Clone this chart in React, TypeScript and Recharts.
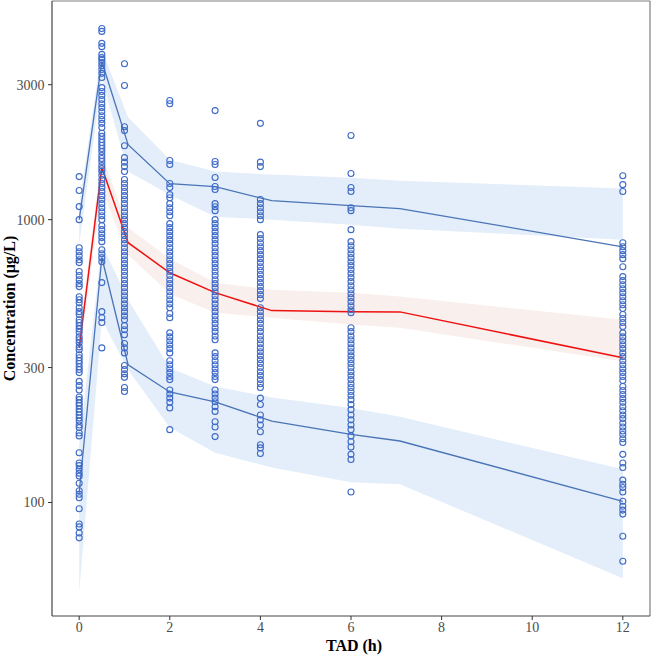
import React from 'react';
import { ComposedChart, XAxis, YAxis, Scatter, Line, Area, ReferenceLine } from 'recharts';

// Bin times for VPC percentile lines / bands (h)
const binTimes = [0, 0.5, 1.08, 2, 3, 4.25, 6, 7.08, 12];
// Observed percentiles (µg/L)
const obsP95 = [1000, 3622, 1842, 1341, 1308, 1167, 1121, 1094, 802];
const obsP50 = [352, 1528, 829, 649, 552, 477, 473, 472, 325];
const obsP05 = [108, 735, 307, 246, 227, 194, 174, 165, 101];
// Simulated CI bands
const ciP95Hi = [1130, 3994, 2300, 1630, 1479, 1443, 1408, 1374, 1288];
const ciP95Lo = [816, 3129, 1480, 1225, 1025, 1000, 960, 929, 850];
const ciP50Hi = [392, 1700, 937, 728, 598, 565, 552, 535, 443];
const ciP50Lo = [320, 1278, 752, 547, 469, 450, 426, 415, 315];
const ciP05Hi = [160, 816, 521, 299, 257, 235, 216, 201, 131];
const ciP05Lo = [48, 443, 295, 184, 150, 133, 118, 116, 54];

// Observed concentrations by nominal time
const obsTimes = [0, 0.5, 1, 2, 3, 4, 6, 12];
const obsT0 = [1420, 1268, 1112, 1000, 796, 770, 746, 722, 705, 656, 635, 613, 594, 580, 534, 521, 508, 488, 473, 462, 443, 433, 422, 411, 400, 385, 376, 367, 355, 347, 333, 325, 317, 310, 302, 295, 288, 268, 259, 250, 236, 231, 225, 220, 214, 209, 204, 199, 194, 188, 184, 176, 172, 150, 138, 135, 131, 127, 124, 117, 110, 107, 104, 95, 84, 82, 78, 75];
const obsT05 = [4740, 4630, 4200, 4090, 3840, 3740, 3682, 3590, 3500, 3394, 3290, 3180, 2930, 2840, 2750, 2659, 2570, 2490, 2410, 2330, 2259, 2190, 2117, 2020, 1970, 1920, 1875, 1830, 1785, 1740, 1685, 1645, 1605, 1555, 1515, 1480, 1435, 1386, 1342, 1299, 1257, 1216, 1178, 1139, 1102, 1067, 1032, 1000, 952, 922, 892, 864, 836, 783, 758, 734, 710, 599, 473, 450, 433, 352];
const obsT1 = [3560, 2980, 2130, 2065, 1826, 1657, 1597, 1540, 1480, 1386, 1342, 1299, 1257, 1216, 1178, 1139, 1102, 1067, 1032, 1000, 968, 937, 907, 878, 850, 823, 796, 770, 746, 722, 699, 677, 656, 635, 613, 594, 575, 556, 538, 521, 504, 488, 473, 457, 443, 422, 408, 392, 365, 352, 338, 305, 295, 285, 277, 255, 247];
const obsT2 = [2637, 2570, 1618, 1566, 1342, 1299, 1226, 1196, 1139, 1102, 1067, 1032, 968, 937, 907, 878, 850, 823, 796, 770, 746, 722, 699, 677, 656, 635, 613, 594, 575, 556, 538, 521, 504, 488, 466, 450, 398, 385, 373, 361, 350, 338, 317, 307, 297, 288, 279, 272, 250, 242, 234, 226, 216, 181];
const obsT3 = [2430, 1605, 1566, 1410, 1310, 1278, 1139, 1111, 1076, 1000, 968, 937, 907, 878, 850, 823, 796, 770, 746, 722, 699, 677, 656, 635, 613, 594, 575, 556, 538, 521, 504, 488, 473, 457, 443, 429, 415, 402, 388, 376, 338, 328, 317, 307, 297, 288, 279, 272, 250, 242, 234, 227, 218, 210, 193, 185, 171];
const obsT4 = [2190, 1597, 1540, 1178, 1139, 1102, 1067, 1032, 1000, 885, 857, 829, 802, 777, 752, 728, 705, 682, 661, 640, 619, 599, 580, 561, 543, 526, 488, 473, 457, 443, 429, 415, 402, 388, 376, 364, 352, 341, 330, 320, 310, 300, 290, 281, 272, 263, 255, 234, 222, 204, 196, 188, 178, 160, 156, 149];
const obsT6 = [1983, 1457, 1299, 1257, 1102, 1076, 922, 836, 809, 783, 758, 734, 710, 688, 666, 645, 624, 604, 584, 565, 547, 530, 513, 496, 480, 469, 415, 402, 388, 376, 364, 352, 341, 330, 320, 310, 300, 290, 281, 272, 263, 255, 247, 239, 231, 222, 213, 204, 196, 188, 181, 172, 164, 157, 148, 142, 109];
const obsT12 = [1430, 1330, 1257, 829, 802, 777, 752, 728, 682, 629, 609, 589, 570, 552, 534, 517, 500, 485, 462, 447, 433, 419, 398, 385, 373, 361, 350, 338, 328, 317, 307, 297, 288, 279, 270, 257, 249, 241, 233, 226, 218, 211, 204, 198, 191, 185, 179, 174, 168, 163, 148, 138, 133, 120, 116, 113, 109, 101, 97, 94, 91, 76, 62];
const obsByTime = [obsT0, obsT05, obsT1, obsT2, obsT3, obsT4, obsT6, obsT12];

const xTicks = [0, 2, 4, 6, 8, 10, 12];
const yTicks = [100, 300, 1000, 3000];
const X_DOMAIN: [number, number] = [-0.6, 12.6];
const Y_DOMAIN: [number, number] = [39.7, 5930];

const vpcRows = binTimes.map((t, i) => ({
  t,
  p95: obsP95[i],
  p50: obsP50[i],
  p05: obsP05[i],
  b95: [ciP95Lo[i], ciP95Hi[i]],
  b50: [ciP50Lo[i], ciP50Hi[i]],
  b05: [ciP05Lo[i], ciP05Hi[i]],
}));

const points = obsTimes.flatMap((t, i) => obsByTime[i].map((c) => ({ t, c })));

const FONT = '"Liberation Serif", "Times New Roman", serif';
const BLUE_BAND = '#E3EEFA';
const RED_BAND = '#F9EFEC';
const BLUE_LINE = '#4A74B6';
const RED_LINE = '#EE1111';
const POINT = '#3E6AC8';

const tickStyle = { fontFamily: FONT, fontSize: 14, fill: '#4D4D4D' };

const YTitle = (props: any) => {
  const vb = props.viewBox || { y: 0, height: 0 };
  const cy = vb.y + vb.height / 2;
  return (
    <text
      transform={`translate(15,${cy}) rotate(-90)`}
      textAnchor="middle"
      fontFamily={FONT}
      fontWeight="bold"
      fontSize={16}
      fill="#000"
    >
      Concentration (μg/L)
    </text>
  );
};

const XTitle = (props: any) => {
  const vb = props.viewBox || { x: 0, width: 0 };
  const cx = vb.x + vb.width / 2 + 3;
  return (
    <text x={cx} y={651} textAnchor="middle" fontFamily={FONT} fontWeight="bold" fontSize={16} fill="#000">
      TAD (h)
    </text>
  );
};

const OpenCircle = (p: any) => (
  <circle cx={p.cx} cy={p.cy} r={3} fill="none" stroke={POINT} strokeWidth={1.1} />
);

export default function App() {
  return (
    <div style={{ position: 'absolute', left: 0, top: 0, background: '#fff' }}>
      <ComposedChart width={653} height={657} margin={{ top: 1, right: 3, left: 0, bottom: 0 }}>
        <XAxis
          dataKey="t"
          type="number"
          domain={X_DOMAIN}
          ticks={xTicks}
          allowDataOverflow
          tick={tickStyle}
          tickSize={4}
          tickMargin={2}
          height={41}
          axisLine={{ stroke: '#444', strokeWidth: 1.2 }}
          tickLine={{ stroke: '#333' }}
          label={{ content: XTitle }}
        />
        <YAxis
          type="number"
          scale="log"
          domain={Y_DOMAIN}
          ticks={yTicks}
          allowDataOverflow
          tick={tickStyle}
          tickSize={4}
          tickMargin={3.5}
          width={52}
          axisLine={{ stroke: '#444', strokeWidth: 1.2 }}
          tickLine={{ stroke: '#333' }}
          label={{ content: YTitle }}
        />
        <Area data={vpcRows} dataKey="b95" type="linear" stroke="none" fill={BLUE_BAND} fillOpacity={1} isAnimationActive={false} activeDot={false} />
        <Area data={vpcRows} dataKey="b50" type="linear" stroke="none" fill={RED_BAND} fillOpacity={1} isAnimationActive={false} activeDot={false} />
        <Area data={vpcRows} dataKey="b05" type="linear" stroke="none" fill={BLUE_BAND} fillOpacity={1} isAnimationActive={false} activeDot={false} />
        <Scatter data={points} dataKey="c" shape={OpenCircle} isAnimationActive={false} />
        <Line data={vpcRows} dataKey="p95" type="linear" stroke={BLUE_LINE} strokeWidth={1.3} dot={false} activeDot={false} isAnimationActive={false} />
        <Line data={vpcRows} dataKey="p05" type="linear" stroke={BLUE_LINE} strokeWidth={1.3} dot={false} activeDot={false} isAnimationActive={false} />
        <Line data={vpcRows} dataKey="p50" type="linear" stroke={RED_LINE} strokeWidth={1.5} dot={false} activeDot={false} isAnimationActive={false} />
        <ReferenceLine y={Y_DOMAIN[1]} stroke="#7F7F7F" strokeWidth={1.2} />
        <ReferenceLine x={X_DOMAIN[1]} stroke="#7F7F7F" strokeWidth={1.2} />
      </ComposedChart>
    </div>
  );
}
